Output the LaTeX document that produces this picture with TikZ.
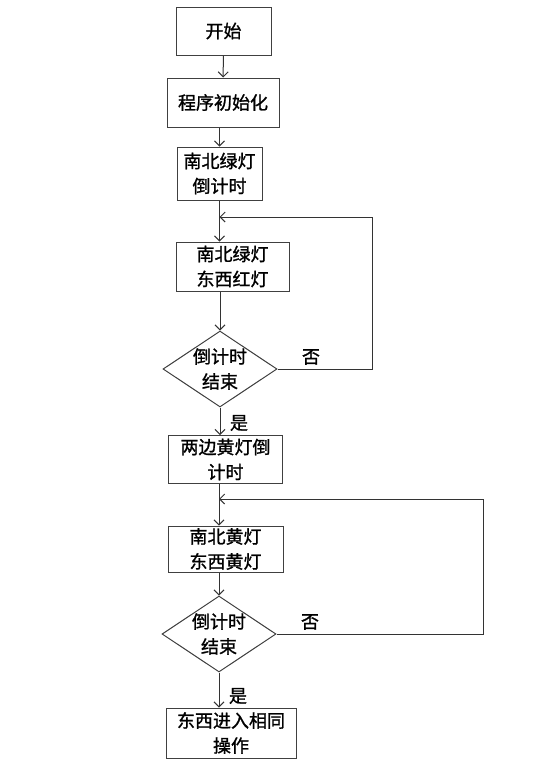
\documentclass[tikz,border=0pt]{standalone}
\usepackage{fontspec}
\setmainfont{Noto Sans CJK SC}[FakeBold=1.2]
\usetikzlibrary{shapes.geometric,arrows.meta}
\tikzset{
  box/.style={draw=black!75,line width=1pt,rectangle,inner sep=0pt,align=center},
  dec/.style={draw=black!75,line width=1pt,diamond,inner sep=0pt},
  txt/.style={inner sep=0pt,align=center},
  lbl/.style={inner sep=0pt},
  flow/.style={draw=black!80,line width=1pt,-{Straight Barb[length=5pt,width=10pt]}}
}

\begin{document}
\begin{tikzpicture}[x=1pt,y=-1pt,font=\fontsize{18}{25}\selectfont]
    \useasboundingbox (0,0) rectangle (553,763);

    % boxes
    \node [box,minimum width=95pt,minimum height=48pt] (start) at (223.5,31) {开始};
    \node [box,minimum width=112pt,minimum height=49pt] (init) at (223,102.5) {程序初始化};
    \node [box,minimum width=85pt,minimum height=53pt] (nsg) at (219.5,173.5) {南北绿灯\\倒计时};
    \node [box,minimum width=113pt,minimum height=49pt] (green) at (232.5,266.5) {南北绿灯\\东西红灯};
    \node [box,minimum width=114pt,minimum height=48pt] (ylw) at (225.5,459.5) {两边黄灯倒\\计时};
    \node [box,minimum width=115pt,minimum height=46pt] (yellow) at (225.5,549) {南北黄灯\\东西黄灯};
    \node [box,minimum width=130pt,minimum height=50pt] (same) at (231,733) {东西进入相同\\操作};

    % decisions
    \node [dec,minimum width=114pt,minimum height=76pt] (d1) at (220,369) {};
    \node [txt] (d1t) at (d1) {倒计时\\结束};
    \node [dec,minimum width=114pt,minimum height=76pt] (d2) at (219,634) {};
    \node [txt] (d2t) at (d2) {倒计时\\结束};

    % loop corners
    \coordinate (r1) at (372,217);
    \coordinate (r2) at (483,499);

    % main flow
    \draw [flow] (start) -- (init);
    \draw [flow] (nsg.north |- init.south) -- (nsg.north);
    \draw [flow] (nsg.south) -- (nsg.south |- green.north);
    \draw [flow] (d1.north |- green.south) -- (d1.north);
    \draw [flow] (d1.south) -- (d1.south |- ylw.north);
    \draw [flow] (d2.north |- ylw.south) -- (d2.north |- yellow.north);
    \draw [flow] (d2.north |- yellow.south) -- (d2.north);
    \draw [flow] (d2.south) -- (d2.south |- same.north);

    % loops back
    \draw [flow] (d1.east) -| (r1) -- (r1 -| nsg.south);
    \draw [flow] (d2.east) -| (r2) -- (r2 -| d2.north);

    % labels
    \node [lbl] (no1) at (311,357) {否};
    \node [lbl] (yes1) at (239,423) {是};
    \node [lbl] (no2) at (310,622) {否};
    \node [lbl] (yes2) at (238,696) {是};
\end{tikzpicture}
\end{document}
